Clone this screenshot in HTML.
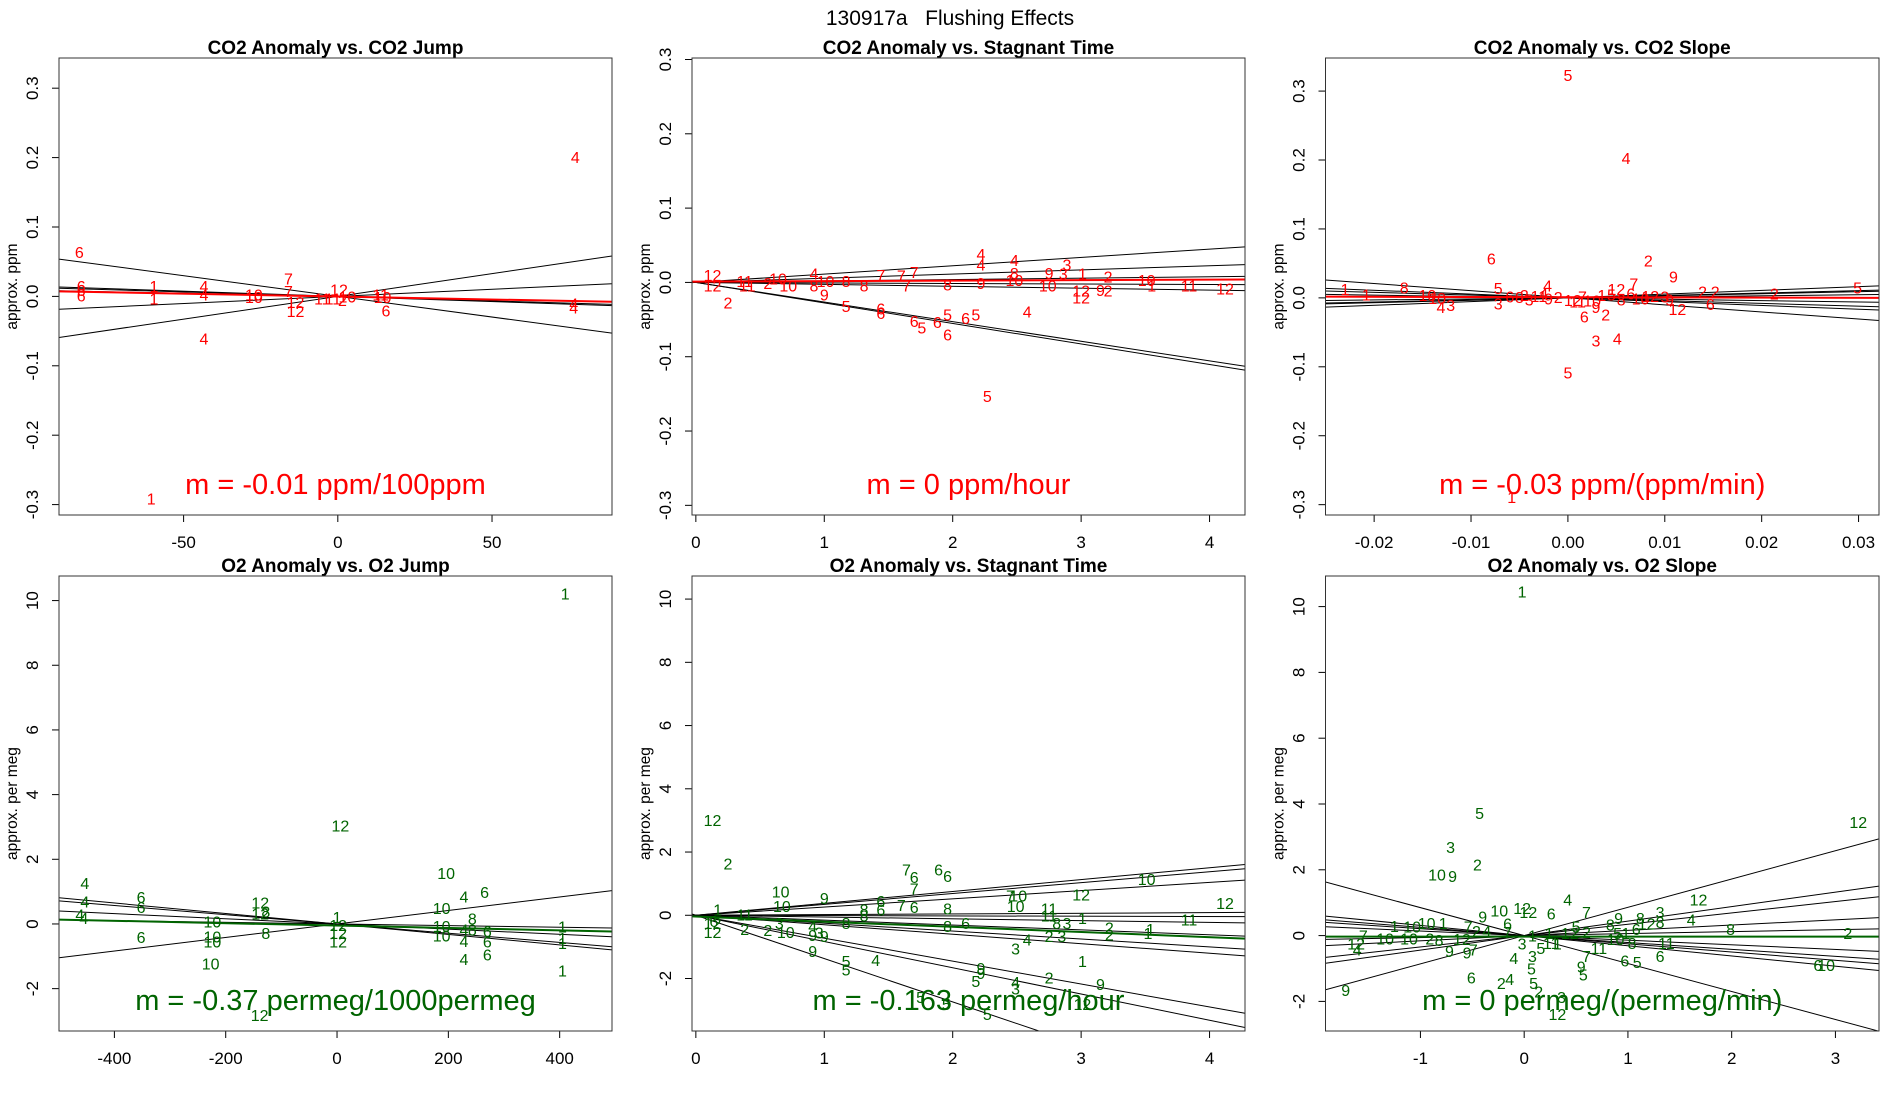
<!DOCTYPE html>
<html><head><meta charset="utf-8"><title>130917a Flushing Effects</title>
<style>
html,body{margin:0;padding:0;background:#fff;}
svg{display:block;font-family:"Liberation Sans",Arial,sans-serif;}
</style></head>
<body>
<svg id="chart" width="1900" height="1100" viewBox="0 0 1900 1100" xmlns="http://www.w3.org/2000/svg">
<rect x="0" y="0" width="1900" height="1100" fill="#fff"/>
<text x="950" y="25" text-anchor="middle" font-size="21" style="white-space:pre" xml:space="preserve">130917a   Flushing Effects</text>
</svg>
<script>
// ---------- Panel 1: CO2 Anomaly vs CO2 Jump ----------
const p1Labels = ["6","6","6","6","1","1","4","4","4","10","10","7","7","12","12","11","11","12","10","2","11","10","6","4","4","4","1"];
const p1X = [-83.8,-83.2,-83.2,-83.2,-59.6,-59.6,-43.4,-43.4,-43.4,-27.2,-27.2,-16,-16,-13.7,-13.7,-5,-1.6,0.4,3.1,1.5,13.9,14.5,15.6,77,76.5,76.5,-60.5];
const p1Y = [0.064,0.015,0.009,0.001,0.015,-0.003,0.015,0.003,-0.061,0.003,-0.001,0.026,0.008,-0.008,-0.021,-0.003,-0.003,0.010,0.0,-0.005,0.003,-0.001,-0.020,0.201,-0.010,-0.016,-0.291];
const p1Slopes = [-0.000595,0.000655,0.000205,-0.000150,-0.000130,-0.000089];
const p1Intercepts = [0,0,0,0,0,0];
const p1Fit = [-0.0000838,-0.0003];
const p1XTicks = [-50,0,50];
const p1XTickLabels = ["-50","0","50"];
const p1YTicks = [-0.3,-0.2,-0.1,0,0.1,0.2,0.3];
const p1YTickLabels = ["-0.3","-0.2","-0.1","0.0","0.1","0.2","0.3"];

// ---------- Panel 2: CO2 Anomaly vs Stagnant Time ----------
const p2Labels = ["12","12","2","11","11","2","10","10","4","8","9","10","5","8","8","6","6","7","7","7","7","6","5","6","6","5","8","6","5","4","4","9","5","4","8","10","4","9","10","3","3","1","12","12","9","2","2","10","1","11","12"];
const p2X = [0.13,0.13,0.25,0.38,0.40,0.56,0.64,0.72,0.92,0.92,1.0,1.01,1.17,1.17,1.31,1.44,1.44,1.44,1.6,1.64,1.7,1.7,1.76,1.88,1.96,1.96,1.96,2.1,2.18,2.22,2.22,2.22,2.27,2.48,2.48,2.48,2.58,2.75,2.74,2.89,2.86,3.01,3.0,3.0,3.15,3.21,3.21,3.51,3.55,3.84,4.12];
const p2Y = [0.010,-0.004,-0.027,0.002,-0.004,-0.001,0.005,-0.004,0.012,-0.004,-0.016,0.002,-0.032,0.002,-0.004,-0.035,-0.041,0.010,0.009,-0.004,0.014,-0.052,-0.061,-0.053,-0.070,-0.043,-0.003,-0.048,-0.043,0.038,0.024,-0.001,-0.153,0.030,0.013,0.003,-0.039,0.013,-0.004,0.024,0.012,0.012,-0.011,-0.020,-0.010,0.008,-0.011,0.003,-0.004,-0.004,-0.008];
const p2Slopes = [0.0112,0.0056,0.0019,-0.0007,-0.0026,-0.0264,-0.0276];
const p2Intercepts = [0,0,0,0,0,0,0];
const p2Fit = [0.0007,0.001];
const p2XTicks = [0,1,2,3,4];
const p2XTickLabels = ["0","1","2","3","4"];
const p2YTicks = [-0.3,-0.2,-0.1,0,0.1,0.2,0.3];
const p2YTickLabels = ["-0.3","-0.2","-0.1","0.0","0.1","0.2","0.3"];

// ---------- Panel 3: CO2 Anomaly vs CO2 Slope ----------
const p3Labels = ["5","4","6","2","9","7","12","3","4","5","1","1","1","8","10","4","3","5","3","4","2","2","6","12","2","5","2","6","9","10","6","8","3","11","9","2","12","7","10","1","5","8","6","10","12","3","9","2","11","4"];
const p3X = [0,0.006,-0.0079,0.0083,0.0109,0.0068,0.005,0.0029,0.0051,0,-0.0058,-0.023,-0.0208,-0.0169,-0.0145,-0.0131,-0.0121,-0.0072,-0.0072,-0.0021,0.0139,0.0152,0.0147,0.0113,0.0213,0.0299,0.0039,0.0017,0.0029,-0.0135,-0.0060,-0.0050,-0.0040,-0.0030,-0.0020,-0.0010,0.0005,0.0015,0.0025,0.0035,0.0045,0.0055,0.0065,0.0075,0.0085,0.0100,0.0105,-0.0045,0.0010,-0.0025];
const p3Y = [0.323,0.203,0.057,0.054,0.031,0.021,0.013,-0.062,-0.059,-0.108,-0.289,0.013,0.005,0.015,0.004,-0.013,-0.010,0.014,-0.008,0.018,0.009,0.009,-0.009,-0.016,0.006,0.015,-0.024,-0.027,-0.013,0.0,0.002,0.001,-0.002,0.003,-0.001,0.001,-0.003,0.002,-0.004,0.004,0.005,-0.002,0.006,-0.001,0.003,0.002,-0.002,0.004,-0.005,0.006];
const p3Slopes = [-1.03,0.54,0.30,0.15,-0.40,-0.55,-0.20,0.35];
const p3Intercepts = [0.0002,0,0,0,0,0,0,0];
const p3Fit = [-0.03,0.001];
const p3XTicks = [-0.02,-0.01,0,0.01,0.02,0.03];
const p3XTickLabels = ["-0.02","-0.01","0.00","0.01","0.02","0.03"];
const p3YTicks = [-0.3,-0.2,-0.1,0,0.1,0.2,0.3];
const p3YTickLabels = ["-0.3","-0.2","-0.1","0.0","0.1","0.2","0.3"];

// ---------- Panel 4: O2 Anomaly vs O2 Jump ----------
const p4Labels = ["1","12","10","4","6","4","4","4","4","6","6","6","12","12","8","8","10","10","10","10","1","12","12","12","10","10","10","4","4","4","8","8","6","6","6","1","1","1","1","12"];
const p4X = [410,6,196,228,265,-453,-453,-462,-455,-352,-352,-352,-138,-138,-128,-128,-224,-224,-224,-227,0,2,2,2,188,188,188,228,228,228,243,243,270,270,270,405,405,405,405,-139];
const p4Y = [10.22,3.04,1.58,0.85,0.99,1.27,0.70,0.30,0.19,0.83,0.52,-0.41,0.66,0.33,0.39,-0.28,0.08,-0.39,-0.55,-1.22,0.22,-0.03,-0.28,-0.55,0.50,-0.06,-0.36,-0.17,-0.52,-1.08,0.17,-0.17,-0.22,-0.55,-0.94,-0.08,-0.44,-0.59,-1.44,-2.82];
const p4Slopes = [-0.00162,-0.00143,-0.0008,0.00209,-0.00025];
const p4Intercepts = [0,0,0,0,0];
const p4Fit = [-0.00037,-0.05];
const p4XTicks = [-400,-200,0,200,400];
const p4XTickLabels = ["-400","-200","0","200","400"];
const p4YTicks = [-2,0,2,4,6,8,10];
const p4YTickLabels = ["-2","0","2","4","6","8","10"];

// ---------- Panel 5: O2 Anomaly vs Stagnant Time ----------
const p5Labels = ["12","2","1","12","12","6","11","2","2","10","3","10","10","9","4","9","9","3","9","5","5","4","8","8","8","6","6","7","6","7","7","6","6","6","8","8","6","9","9","5","5","5","5","4","3","3","4","7","10","10","11","11","8","3","2","3","12","1","1","2","9","12","2","2","10","1","1","11","12"];
const p5X = [0.13,0.25,0.17,0.13,0.13,0.14,0.38,0.38,0.56,0.70,0.65,0.66,0.67,1.0,0.91,0.91,0.91,0.96,1.0,1.17,1.17,1.40,1.31,1.31,1.17,1.44,1.44,1.64,1.70,1.70,1.60,1.70,1.89,1.96,1.96,1.96,2.1,2.22,2.22,2.18,1.95,2.27,1.75,2.49,2.49,2.49,2.58,2.45,2.49,2.51,2.75,2.75,2.81,2.89,2.75,2.85,3.0,3.01,3.01,2.75,3.15,3.01,3.22,3.22,3.51,3.54,3.52,3.84,4.12];
const p5Y = [3.01,1.63,0.18,-0.24,-0.53,-0.18,0.03,-0.43,-0.47,-0.53,-0.24,0.75,0.29,0.55,-0.34,-0.63,-1.13,-0.55,-0.66,-1.45,-1.71,-1.42,0.18,0.0,-0.24,0.45,0.18,1.45,1.21,0.84,0.32,0.26,1.45,1.24,0.22,-0.34,-0.24,-1.66,-1.82,-2.08,-2.8,-3.13,-2.58,-2.11,-2.32,-1.05,-0.76,0.62,0.29,0.62,0.22,0.0,-0.24,-0.24,-0.66,-0.66,0.66,-0.08,-1.45,-1.97,-2.18,-2.8,-0.39,-0.61,1.14,-0.43,-0.56,-0.13,0.39];
const p5Slopes = [0.376,0.344,0.26,0.021,-0.01,-0.056,-0.154,-0.25,-0.30,-0.725,-0.83,-1.37];
const p5Intercepts = [0,0,0,0,0,0,0,0,0,0,0,0];
const p5Fit = [-0.163,-0.04];
const p5XTicks = [0,1,2,3,4];
const p5XTickLabels = ["0","1","2","3","4"];
const p5YTicks = [-2,0,2,4,6,8,10];
const p5YTickLabels = ["-2","0","2","4","6","8","10"];

// ---------- Panel 6: O2 Anomaly vs O2 Slope ----------
const p6Labels = ["1","5","3","2","10","9","12","12","4","8","2","4","7","9","8","3","8","12","9","10","12","12","6","1","10","10","1","7","10","10","2","8","4","12","9","9","9","7","6","2","4","4","3","5","5","2","3","12","5","1","11","9","5","7","11","6","5","6","11","6","10","3","1","12","2","5","8","5","1","10","8","6","2","4","7","12","6","7","1"];
const p6X = [-0.02,-0.43,-0.71,-0.45,-0.84,-0.69,3.22,1.68,1.61,1.99,3.12,0.42,0.60,0.91,1.12,1.31,1.31,1.18,-0.40,-0.24,-0.02,0.04,0.26,-1.25,-1.08,-0.94,-0.78,-1.55,-1.34,-1.11,-0.91,-0.82,-1.61,-1.62,-1.72,-0.72,-0.55,-0.49,-0.51,-0.22,-0.14,-0.10,0.08,0.07,0.09,0.14,0.36,0.32,0.16,0.32,0.26,0.55,0.57,0.60,0.72,0.97,1.09,1.31,1.37,2.83,2.91,-0.02,0.08,0.44,0.60,0.50,0.83,0.90,0.98,0.88,1.04,1.08,-0.46,-0.36,-0.54,-0.60,-0.16,-0.16,0.24];
const p6Y = [10.46,3.72,2.70,2.16,1.85,1.81,3.46,1.09,0.49,0.20,0.08,1.09,0.71,0.54,0.54,0.71,0.42,0.37,0.58,0.77,0.84,0.71,0.67,0.29,0.27,0.39,0.39,0.0,-0.09,-0.09,-0.09,-0.14,-0.43,-0.24,-1.66,-0.47,-0.52,-0.43,-1.28,-1.44,-1.32,-0.68,-0.62,-1.0,-1.44,-1.70,-1.86,-2.39,-0.37,-0.24,-0.22,-0.94,-1.19,-0.62,-0.37,-0.75,-0.81,-0.62,-0.22,-0.9,-0.9,-0.24,0.0,0.08,0.11,0.27,0.33,0.08,0.08,-0.11,-0.22,0.20,0.14,0.14,0.27,-0.11,0.37,0.11,0.08];
const p6Slopes = [0.86,0.44,0.345,0.16,0.06,-0.14,-0.21,-0.25,-0.31,-0.85];
const p6Intercepts = [0,0,0,0,0,0,0,0,0,0];
const p6Fit = [0.0,-0.03];
const p6XTicks = [-1,0,1,2,3];
const p6XTickLabels = ["-1","0","1","2","3"];
const p6YTicks = [-2,0,2,4,6,8,10];
const p6YTickLabels = ["-2","0","2","4","6","8","10"];

const NS = "http://www.w3.org/2000/svg";
const svg = document.getElementById("chart");
const RED = "#ff0000", GREEN = "#006400";

const panels = [
  {id:"co2-jump", title:"CO2 Anomaly vs. CO2 Jump", ytitle:"approx. ppm", m:"m = -0.01 ppm/100ppm", col:RED,
   left:59, top:58, w:553, h:457, xd:[-90.4,88.9], yd:[-0.315,0.3435],
   labels:p1Labels, xs:p1X, ys:p1Y, slopes:p1Slopes, ints:p1Intercepts, fit:p1Fit,
   xt:p1XTicks, xtl:p1XTickLabels, yt:p1YTicks, ytl:p1YTickLabels},
  {id:"co2-stagnant", title:"CO2 Anomaly vs. Stagnant Time", ytitle:"approx. ppm", m:"m = 0 ppm/hour", col:RED,
   left:692, top:58, w:553, h:457, xd:[-0.03,4.276], yd:[-0.313,0.302],
   labels:p2Labels, xs:p2X, ys:p2Y, slopes:p2Slopes, ints:p2Intercepts, fit:p2Fit,
   xt:p2XTicks, xtl:p2XTickLabels, yt:p2YTicks, ytl:p2YTickLabels},
  {id:"co2-slope", title:"CO2 Anomaly vs. CO2 Slope", ytitle:"approx. ppm", m:"m = -0.03 ppm/(ppm/min)", col:RED,
   left:1325.5, top:58, w:553.5, h:457, xd:[-0.02502,0.03211], yd:[-0.315,0.348],
   labels:p3Labels, xs:p3X, ys:p3Y, slopes:p3Slopes, ints:p3Intercepts, fit:p3Fit,
   xt:p3XTicks, xtl:p3XTickLabels, yt:p3YTicks, ytl:p3YTickLabels},
  {id:"o2-jump", title:"O2 Anomaly vs. O2 Jump", ytitle:"approx. per meg", m:"m = -0.37 permeg/1000permeg", col:GREEN,
   left:59, top:576, w:553, h:455, xd:[-499.5,494], yd:[-3.31,10.76],
   labels:p4Labels, xs:p4X, ys:p4Y, slopes:p4Slopes, ints:p4Intercepts, fit:p4Fit,
   xt:p4XTicks, xtl:p4XTickLabels, yt:p4YTicks, ytl:p4YTickLabels},
  {id:"o2-stagnant", title:"O2 Anomaly vs. Stagnant Time", ytitle:"approx. per meg", m:"m = -0.163 permeg/hour", col:GREEN,
   left:692, top:576, w:553, h:455, xd:[-0.03,4.276], yd:[-3.66,10.73],
   labels:p5Labels, xs:p5X, ys:p5Y, slopes:p5Slopes, ints:p5Intercepts, fit:p5Fit,
   xt:p5XTicks, xtl:p5XTickLabels, yt:p5YTicks, ytl:p5YTickLabels},
  {id:"o2-slope", title:"O2 Anomaly vs. O2 Slope", ytitle:"approx. per meg", m:"m = 0 permeg/(permeg/min)", col:GREEN,
   left:1325.5, top:576, w:553.5, h:455, xd:[-1.915,3.42], yd:[-2.90,10.93],
   labels:p6Labels, xs:p6X, ys:p6Y, slopes:p6Slopes, ints:p6Intercepts, fit:p6Fit,
   xt:p6XTicks, xtl:p6XTickLabels, yt:p6YTicks, ytl:p6YTickLabels}
];

function mk(tag, attrs, parent){
  const e = document.createElementNS(NS, tag);
  for (const k in attrs) e.setAttribute(k, attrs[k]);
  (parent||svg).appendChild(e);
  return e;
}

panels.forEach(function(p){
  const sx = v => p.left + (v - p.xd[0]) / (p.xd[1] - p.xd[0]) * p.w;
  const sy = v => p.top + p.h - (v - p.yd[0]) / (p.yd[1] - p.yd[0]) * p.h;
  const bottom = p.top + p.h;
  const g = mk("g", {});
  
  

  const clip = mk("clipPath", {id:"clip-" + p.id}, g);
  mk("rect", {x:p.left, y:p.top, width:p.w, height:p.h}, clip);

  const t = mk("text", {x:p.left + p.w/2, y:p.top - 4, "text-anchor":"middle", "font-size":"19", "font-weight":"bold"}, g);
  t.textContent = p.title;
  
  

  const xa = mk("g", {}, g);
  
  
  mk("line", {x1:sx(p.xt[0]), x2:sx(p.xt[p.xt.length-1]), y1:bottom, y2:bottom, stroke:"#000", "stroke-width":1}, xa);
  p.xt.forEach(function(v, i){
    mk("line", {x1:sx(v), x2:sx(v), y1:bottom, y2:bottom + 7, stroke:"#000", "stroke-width":1}, xa);
    const tl = mk("text", {x:sx(v), y:bottom + 33, "text-anchor":"middle", "font-size":"17"}, xa);
    tl.textContent = p.xtl[i];
    
    
  });

  const ya = mk("g", {}, g);
  
  
  mk("line", {x1:p.left, x2:p.left, y1:sy(p.yt[0]), y2:sy(p.yt[p.yt.length-1]), stroke:"#000", "stroke-width":1}, ya);
  p.yt.forEach(function(v, i){
    mk("line", {x1:p.left - 7, x2:p.left, y1:sy(v), y2:sy(v), stroke:"#000", "stroke-width":1}, ya);
    const cx = p.left - 21, cy = sy(v);
    const tl = mk("text", {x:cx, y:cy, "text-anchor":"middle", "font-size":"17", transform:"rotate(-90 " + cx + " " + cy + ")"}, ya);
    tl.textContent = p.ytl[i];
    
    
  });
  const ycx = p.left - 42, ycy = p.top + p.h/2;
  const yt = mk("text", {x:ycx, y:ycy, "text-anchor":"middle", "font-size":"15.5", transform:"rotate(-90 " + ycx + " " + ycy + ")"}, g);
  yt.textContent = p.ytitle;
  
  

  const plot = mk("g", {"clip-path":"url(#clip-" + p.id + ")"}, g);
  
  

  p.slopes.forEach(function(s, i){
    const b = p.ints[i];
    const ln = mk("line", {x1:sx(p.xd[0]), y1:sy(b + s*p.xd[0]), x2:sx(p.xd[1]), y2:sy(b + s*p.xd[1]), stroke:"#000", "stroke-width":1}, plot);
    
    
  });

  p.labels.forEach(function(lab, i){
    const tx = mk("text", {x:sx(p.xs[i]), y:sy(p.ys[i]) + 6, "text-anchor":"middle", "font-size":"16", fill:p.col}, plot);
    tx.textContent = lab;
    
    
  });

  const s = p.fit[0], b = p.fit[1];
  const fl = mk("line", {x1:sx(p.xd[0]), y1:sy(b + s*p.xd[0]), x2:sx(p.xd[1]), y2:sy(b + s*p.xd[1]), stroke:p.col, "stroke-width":2}, plot);
  
  

  const mt = mk("text", {x:p.left + p.w/2, y:bottom - 21, "text-anchor":"middle", "font-size":"29", fill:p.col}, g);
  mt.textContent = p.m;
  
  

  const fr = mk("rect", {x:p.left, y:p.top, width:p.w, height:p.h, fill:"none", stroke:"#333", "stroke-width":1}, g);
  
  
});
</script>
</body></html>
